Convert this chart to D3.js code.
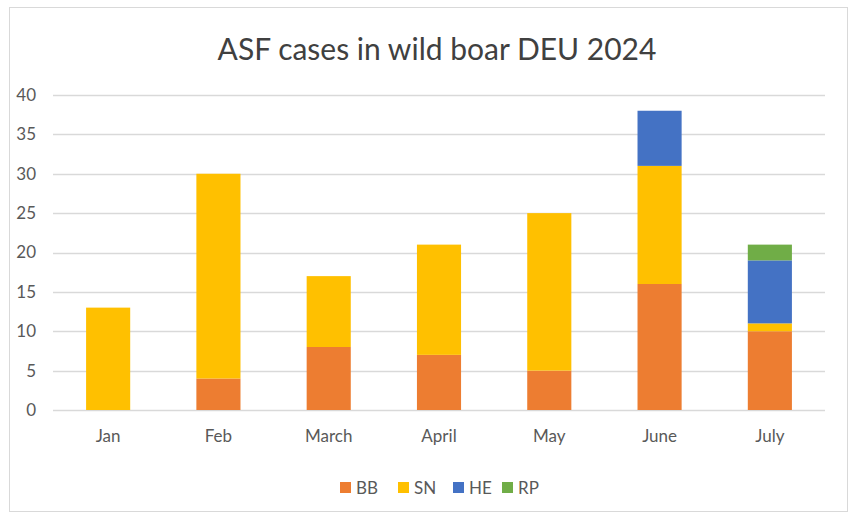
<!DOCTYPE html>
<html>
<head>
<meta charset="utf-8">
<script src="https://cdn.jsdelivr.net/npm/d3@7"></script>
<style>
  body { margin: 0; background: #fff; }
  text { font-family: Lato, "Open Sans", sans-serif; }
</style>
</head>
<body>
<div id="chart"></div>
<script>
'use strict'

// data
let months = ["Jan", "Feb", "March", "April", "May", "June", "July"]
let BB = [0, 4, 8, 7, 5, 16, 10]
let SN = [13, 26, 9, 14, 20, 15, 1]
let HE = [0, 0, 0, 0, 0, 7, 8]
let RP = [0, 0, 0, 0, 0, 0, 2]
let seriesNames = ["BB", "SN", "HE", "RP"]
let yTicks = [0, 5, 10, 15, 20, 25, 30, 35, 40]

let width = 854
let height = 518
let customColors = ["#ED7D31", "#FFC000", "#4472C4", "#70AD47"]
let margin = { top: 95, right: 29, bottom: 108, left: 53 }

let rows = months.map((m, i) => ({ month: m, BB: BB[i], SN: SN[i], HE: HE[i], RP: RP[i] }))
let stacked = d3.stack().keys(seriesNames)(rows)

let svg = d3.select("#chart").append("svg")
  .attr("width", width)
  .attr("height", height)

// outer frame
svg.append("rect")
  .attr("x", 9.5).attr("y", 7.5)
  .attr("width", 838).attr("height", 504)
  .attr("fill", "#fff")
  .attr("stroke", "#d9d9d9")

let x = d3.scaleBand()
  .domain(months)
  .range([margin.left, width - margin.right])
  .paddingInner(0.6)
  .paddingOuter(0.3)

let y = d3.scaleLinear()
  .domain([0, 40])
  .range([height - margin.bottom, margin.top])

// gridlines
svg.append("g")
  .selectAll("line")
  .data(yTicks)
  .enter().append("line")
  .attr("x1", margin.left)
  .attr("x2", width - margin.right)
  .attr("y1", d => Math.round(y(d)) + 0.5)
  .attr("y2", d => Math.round(y(d)) + 0.5)
  .attr("stroke", "#d9d9d9")
  .attr("stroke-width", 1.3)

// y axis labels
let yAxis = d3.axisLeft(y).tickValues(yTicks).tickSize(0).tickPadding(0)
let gy = svg.append("g")
  .attr("transform", "translate(" + 36 + ",0)")
  .call(yAxis)
gy.select(".domain").remove()
gy.selectAll("text")
  .attr("fill", "#595959")
  .style("font-size", "17px")
  .style("font-family", "Lato, sans-serif")

// bars
svg.append("g")
  .selectAll("g")
  .data(stacked)
  .enter().append("g")
  .attr("fill", (d, i) => customColors[i])
  .selectAll("rect")
  .data(d => d)
  .enter().append("rect")
  .attr("x", d => x(d.data.month))
  .attr("y", d => y(d[1]))
  .attr("width", x.bandwidth())
  .attr("height", d => y(d[0]) - y(d[1]))

// x axis labels
let xAxis = d3.axisBottom(x).tickSize(0).tickPadding(0)
let gx = svg.append("g")
  .attr("transform", "translate(0," + (height - margin.bottom + 20) + ")")
  .call(xAxis)
gx.select(".domain").remove()
gx.selectAll("text")
  .attr("fill", "#595959")
  .style("font-size", "17px")
  .style("font-family", "Lato, sans-serif")

// title
svg.append("text")
  .attr("x", 437)
  .attr("y", 60)
  .attr("text-anchor", "middle")
  .attr("fill", "#404040")
  .style("font-size", "30px")
  .text("ASF cases in wild boar DEU 2024")

// legend
let legendX = [340, 398, 453, 502]
let legend = svg.selectAll(".legend")
  .data(seriesNames)
  .enter().append("g")
  .attr("class", "legend")
  .attr("transform", (d, i) => "translate(" + legendX[i] + "," + 482 + ")")

legend.append("rect")
  .attr("width", 11)
  .attr("height", 11)
  .attr("fill", (d, i) => customColors[i])

legend.append("text")
  .attr("x", 16)
  .attr("y", 12)
  .attr("fill", "#595959")
  .style("font-size", "17px")
  .text(d => d)
</script>
</body>
</html>
